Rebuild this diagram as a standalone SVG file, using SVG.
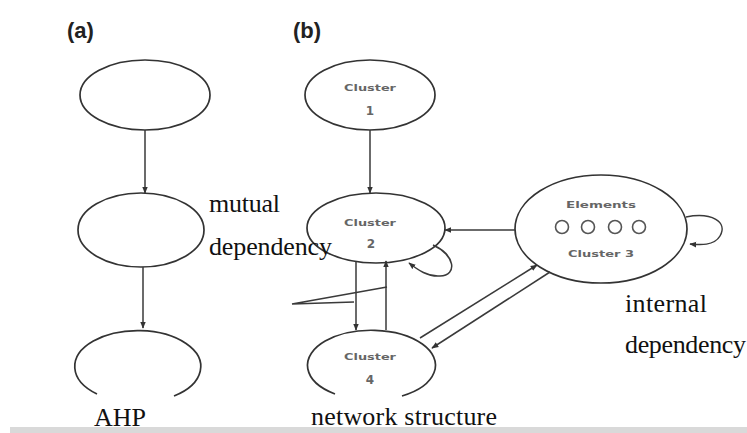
<svg xmlns="http://www.w3.org/2000/svg" width="747" height="433" viewBox="0 0 747 433">
<defs>
<style>
.node{fill:none;stroke:#333;stroke-width:1.7}
.edge{fill:none;stroke:#3a3a3a;stroke-width:1.5}
.lbl{font-family:"Liberation Serif",serif;font-size:26px;fill:#111}
.tag{font-family:"Liberation Sans",Arial,sans-serif;font-size:22px;font-weight:bold;fill:#222}
.small{font-family:"DejaVu Sans",sans-serif;font-size:9px;font-weight:bold;fill:#666;text-anchor:middle}
.num{font-family:"DejaVu Sans",sans-serif;font-size:12px;font-weight:bold;fill:#666;text-anchor:middle}
.dot{fill:none;stroke:#555;stroke-width:1.6}
</style>
<marker id="ah" viewBox="0 0 10 10" refX="9" refY="5" markerWidth="7" markerHeight="7" orient="auto" markerUnits="userSpaceOnUse">
<path d="M0,1 L10,5 L0,9 z" fill="#333"/>
</marker>
</defs>
<rect width="747" height="433" fill="#fff"/>
<rect x="10" y="427" width="737" height="6" fill="#d9d9d9"/>
<text class="tag" x="67" y="38">(a)</text>
<text class="tag" x="293" y="38">(b)</text>
<g id="a1"><ellipse class="node" cx="145" cy="95" rx="65" ry="35"/></g>
<g id="a2"><ellipse class="node" cx="141" cy="230" rx="63" ry="37"/></g>
<g id="a3"><path class="node" d="M97,394 A63,36 0 1 1 174,396"/></g>
<g id="c1"><ellipse class="node" cx="370" cy="95" rx="65" ry="35"/><text class="small" x="370" y="91" textLength="52" lengthAdjust="spacingAndGlyphs">Cluster</text><text class="num" x="370" y="115">1</text></g>
<g id="c2"><ellipse class="node" cx="376" cy="228" rx="69" ry="35"/><text class="small" x="370" y="226" textLength="52" lengthAdjust="spacingAndGlyphs">Cluster</text><text class="num" x="371" y="248">2</text></g>
<g id="c4"><path class="node" d="M335,394 A64,35 0 1 1 402,396"/><text class="small" x="370" y="360" textLength="52" lengthAdjust="spacingAndGlyphs">Cluster</text><text class="num" x="370" y="384">4</text></g>
<g id="c3"><ellipse class="node" cx="601" cy="229" rx="86" ry="54"/>
<text class="small" x="601" y="208" textLength="70" lengthAdjust="spacingAndGlyphs">Elements</text>
<circle class="dot" cx="562" cy="227" r="6.5"/><circle class="dot" cx="588" cy="227" r="6.5"/><circle class="dot" cx="615" cy="227" r="6.5"/><circle class="dot" cx="639" cy="227" r="6.5"/>
<text class="small" x="601" y="257" textLength="66" lengthAdjust="spacingAndGlyphs">Cluster 3</text></g>
<g id="edges">
<line class="edge" x1="145" y1="130" x2="145" y2="193" marker-end="url(#ah)"/>
<line class="edge" x1="143" y1="267" x2="143" y2="328" marker-end="url(#ah)"/>
<line class="edge" x1="370" y1="130" x2="370" y2="193" marker-end="url(#ah)"/>
<line class="edge" x1="515" y1="230" x2="445" y2="230" marker-end="url(#ah)"/>
<path class="edge" d="M433,245 C455,255 458,275 440,276 C428,277 418,270 409,263" marker-end="url(#ah)"/>
<line class="edge" x1="356" y1="262" x2="356" y2="330" marker-end="url(#ah)"/>
<line class="edge" x1="386" y1="330" x2="386" y2="261" marker-end="url(#ah)"/>
<polyline class="edge" points="387,287 292,304 354,302"/>
<line class="edge" x1="420" y1="338" x2="537" y2="265" marker-end="url(#ah)"/>
<line class="edge" x1="550" y1="272" x2="432" y2="348" marker-end="url(#ah)"/>
<path class="edge" d="M686,217 C712,212 728,222 720,236 C714,246 700,245 690,244" marker-end="url(#ah)"/>
</g>
<text class="lbl" x="209" y="212" textLength="71">mutual</text>
<text class="lbl" x="209" y="255" textLength="123">dependency</text>
<text class="lbl" x="625" y="312" textLength="82">internal</text>
<text class="lbl" x="625" y="353" textLength="121">dependency</text>
<text class="lbl" x="94" y="426" textLength="52">AHP</text>
<text class="lbl" x="311" y="425" textLength="186">network structure</text>
</svg>
